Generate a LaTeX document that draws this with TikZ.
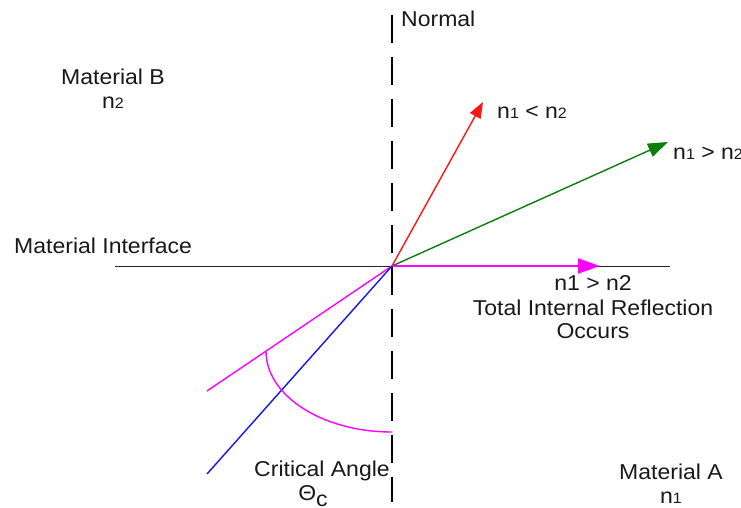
\documentclass[tikz,border=0pt]{standalone}
\usepackage{fontspec}
\setmainfont{Liberation Sans}[FakeStretch=1.07]
\usetikzlibrary{arrows.meta}
\definecolor{rayred}{RGB}{255,20,20}
\definecolor{raygreen}{RGB}{10,125,10}
\definecolor{raypink}{RGB}{255,0,255}
\definecolor{rayblue}{RGB}{20,20,235}
\newcommand{\smd}[1]{{\fontsize{15}{15}\selectfont #1}}
\begin{document}
\begin{tikzpicture}[x=1pt,y=-1pt,
  lbl/.style={font=\fontsize{21.5}{24}\selectfont, inner sep=0pt, align=center, text=black!90},
  ray/.style={line width=1.4pt},
  normalline/.style={line width=2.4pt, dash pattern=on 28pt off 14pt},
  iface/.style={line width=0.9pt, black!85}]
\useasboundingbox (0,0) rectangle (741,508);
\coordinate (O) at (392,266);
\coordinate (ntop) at (392,15);
\coordinate (nbot) at (392,502);
\coordinate (il) at (115,266);
\coordinate (ir) at (670,266);
\coordinate (redtip) at (483,102);
\coordinate (greentip) at (668,142);
\coordinate (pinktip) at (600,266);
\coordinate (pinkend) at (207,391);
\coordinate (blueend) at (207,474);
\coordinate (arcs) at (266,351);
% normal
\draw[normalline] (ntop) -- (nbot);
% interface
\draw[iface] (il) -- (ir);
% rays
\draw[ray, rayred, -{Triangle[length=16pt,width=12pt]}] (O) -- (redtip);
\draw[ray, raygreen, -{Triangle[length=20pt,width=14pt]}] (O) -- (greentip);
\draw[ray, raypink, line width=2pt, -{Triangle[length=22pt,width=15pt]}] (O) -- (pinktip);
\draw[ray, raypink] (O) -- (pinkend);
\draw[ray, rayblue] (O) -- (blueend);
% critical angle arc
\draw[ray, raypink] (arcs) arc[start angle=180, end angle=270, x radius=126, y radius=-81];
% labels
\node[lbl, anchor=west] (normal) at (401,19) {Normal};
\node[lbl] (matB) at (113,77) {Material B};
\node[lbl] (n2B) at (113,103) {n\smd{2}};
\node[lbl, anchor=west] (lt) at (497,112) {n\smd{1} < n\smd{2}};
\node[lbl, anchor=west] (gt) at (673,153) {n\smd{1} > n\smd{2}};
\node[lbl, anchor=west] (mi) at (14,246) {Material Interface};
\node[lbl] (tir1) at (593,283) {n1 > n2};
\node[lbl] (tir2) at (593,308) {Total Internal Reflection};
\node[lbl] (tir3) at (593,331) {Occurs};
\node[lbl] (crit) at (322,471) {Critical Angle};
\node[lbl, anchor=base] (theta) at (313,500) {Θ\raisebox{-6pt}{c}};
\node[lbl] (matA) at (671,472) {Material A};
\node[lbl] (n1A) at (671,498) {n\smd{1}};
\end{tikzpicture}
\end{document}
